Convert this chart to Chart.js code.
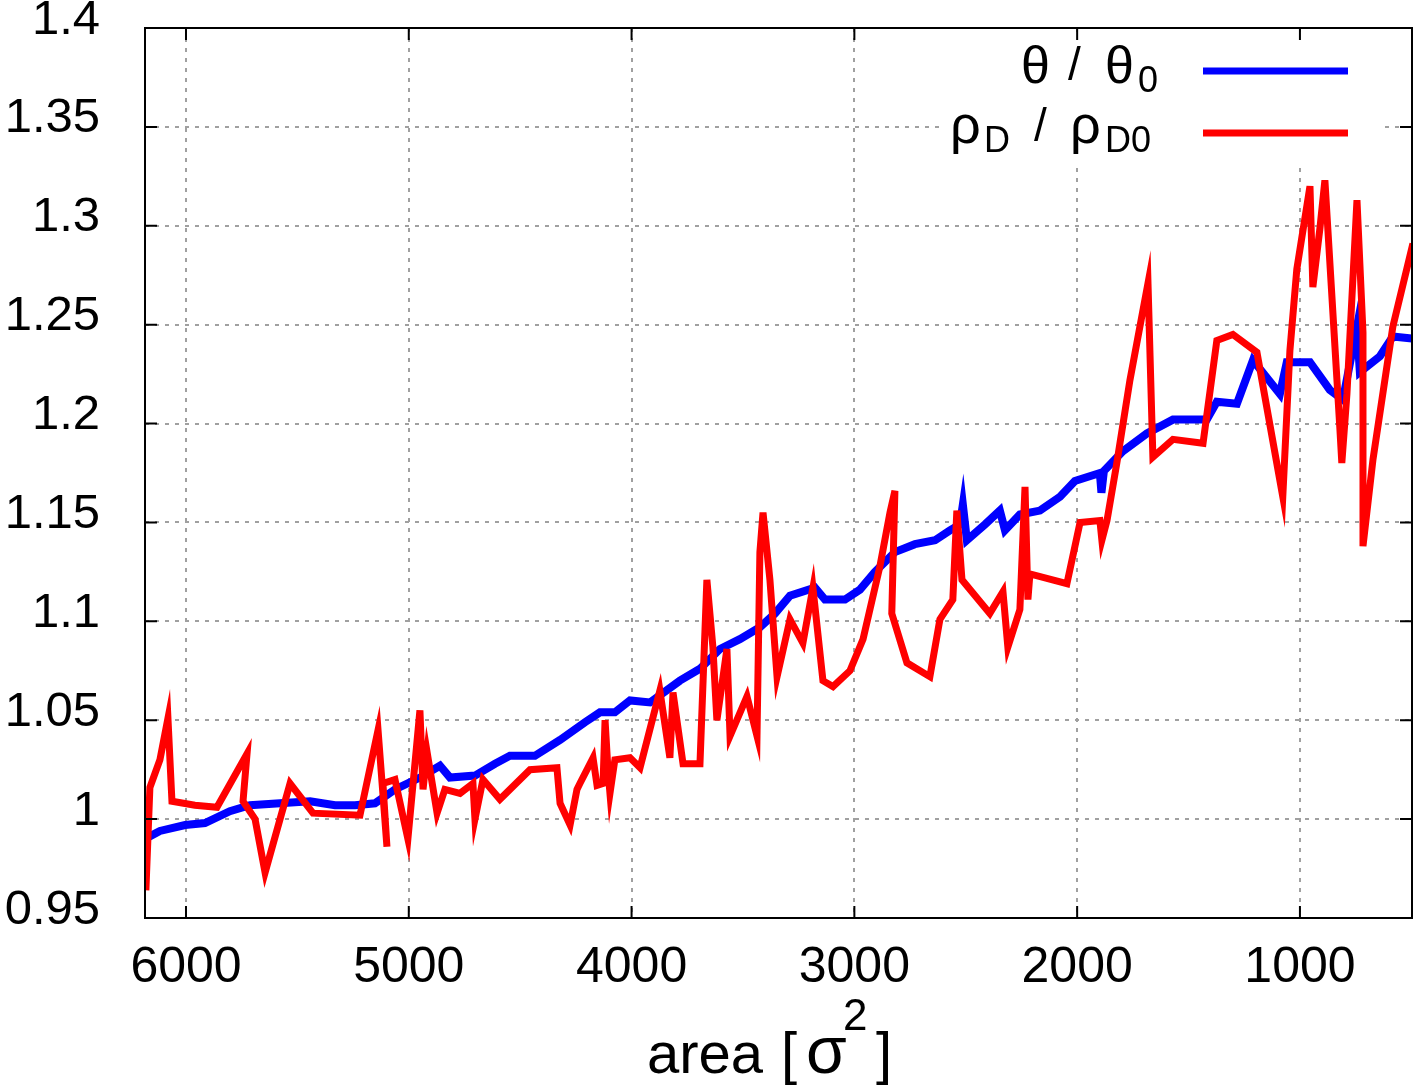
<!DOCTYPE html>
<html>
<head>
<meta charset="utf-8">
<script src="https://cdn.jsdelivr.net/npm/chart.js@4.4.1/dist/chart.umd.min.js"></script>
<style>
    html, body { margin: 0; padding: 0; background: #fff; }
    #wrap { width: 1415px; height: 1091px; }
</style>
</head>
<body>
<div id="wrap"><canvas id="chartArea" width="1415" height="1091"></canvas></div>
<script>
// --- DATOS: θ / θ0 (azul) ---
const thetaArea = [6184, 6117, 6004, 5915, 5803, 5713, 5578, 5443, 5331, 5241, 5152, 5062, 4950, 4860, 4815,
    4703, 4613, 4546, 4434, 4321, 4209, 4142, 4075, 4007, 3917, 3783, 3693, 3603, 3514, 3424, 3356, 3289,
    3177, 3132, 3042, 2975, 2908, 2818, 2728, 2638, 2571, 2526, 2513, 2495, 2414, 2347, 2324, 2257, 2167,
    2077, 2010, 1898, 1891, 1880, 1795, 1687, 1570, 1418, 1373, 1283, 1211, 1090, 1059, 955, 866, 807,
    744, 731, 641, 583, 497];
const thetaValor = [0.990, 0.994, 0.997, 0.998, 1.004, 1.007, 1.008, 1.009, 1.007, 1.007, 1.008, 1.015, 1.021,
    1.027, 1.021, 1.022, 1.028, 1.032, 1.032, 1.040, 1.049, 1.054, 1.054, 1.060, 1.059, 1.070, 1.076, 1.086,
    1.091, 1.097, 1.104, 1.113, 1.117, 1.111, 1.111, 1.116, 1.125, 1.135, 1.139, 1.141, 1.146, 1.149, 1.159,
    1.141, 1.149, 1.156, 1.146, 1.154, 1.156, 1.163, 1.171, 1.175, 1.165, 1.176, 1.186, 1.195, 1.202, 1.202,
    1.211, 1.210, 1.232, 1.215, 1.231, 1.231, 1.217, 1.212, 1.249, 1.226, 1.234, 1.244, 1.243];

// --- DATOS: ρD / ρD0 (rojo) ---
const rhoArea = [6184, 6180, 6162, 6117, 6081, 6063, 5960, 5861, 5726, 5744, 5690, 5645, 5533, 5430, 5219,
    5138, 5098, 5116, 5062, 5004, 4950, 4936, 4918, 4873, 4838, 4770, 4712, 4703, 4667, 4591, 4456, 4335,
    4321, 4276, 4245, 4232, 4173, 4155, 4128, 4119, 4106, 4097, 4075, 4007, 3962, 3873, 3828, 3814, 3769,
    3693, 3662, 3635, 3617, 3572, 3558, 3482, 3437, 3424, 3410, 3379, 3347, 3289, 3231, 3186, 3141, 3096,
    3020, 2961, 2885, 2840, 2818, 2832, 2764, 2661, 2616, 2558, 2540, 2517, 2392, 2333, 2311, 2257, 2234,
    2221, 2212, 2046, 1987, 1898, 1889, 1866, 1822, 1763, 1682, 1660, 1570, 1435, 1373, 1301, 1193, 1077,
    1045, 1014, 955, 942, 910, 888, 821, 812, 789, 744, 717, 717, 672, 583, 493];
const rhoValor = [1.000, 0.964, 1.016, 1.030, 1.051, 1.009, 1.007, 1.006, 1.033, 1.009, 1.000, 0.973, 1.018,
    1.003, 1.002, 1.045, 0.986, 1.018, 1.020, 0.990, 1.055, 1.015, 1.034, 1.003, 1.015, 1.013, 1.018, 1.000,
    1.020, 1.010, 1.025, 1.026, 1.008, 0.997, 1.015, 1.018, 1.031, 1.017, 1.018, 1.050, 1.025, 1.013, 1.030,
    1.031, 1.026, 1.065, 1.031, 1.064, 1.028, 1.028, 1.121, 1.087, 1.050, 1.086, 1.042, 1.062, 1.042, 1.135,
    1.155, 1.121, 1.072, 1.101, 1.089, 1.117, 1.070, 1.067, 1.075, 1.091, 1.128, 1.155, 1.166, 1.104, 1.079,
    1.072, 1.101, 1.111, 1.156, 1.121, 1.104, 1.115, 1.087, 1.106, 1.168, 1.111, 1.124, 1.119, 1.150, 1.151,
    1.141, 1.151, 1.180, 1.222, 1.271, 1.183, 1.192, 1.190, 1.242, 1.245, 1.236, 1.163, 1.237, 1.278, 1.320,
    1.269, 1.299, 1.323, 1.198, 1.180, 1.215, 1.313, 1.246, 1.138, 1.182, 1.249, 1.291];

// --- EJES ---
const xTicks = [6000, 5000, 4000, 3000, 2000, 1000];
const xLimites = [497, 6184];
const yTicks = [0.95, 1, 1.05, 1.1, 1.15, 1.2, 1.25, 1.3, 1.35, 1.4];
const yTickLabels = ['0.95', '1', '1.05', '1.1', '1.15', '1.2', '1.25', '1.3', '1.35', '1.4'];

const FUENTE = '"Liberation Sans", Arial, Helvetica, sans-serif';
const AZUL = '#0000ff';
const ROJO = '#ff0000';

// Trozos de texto sueltos (para sub/superíndices de la leyenda y del título)
function trozo(ctx, t, x, y, size) {
    ctx.font = size + 'px ' + FUENTE;
    ctx.fillText(t, x, y);
}

// Marco, ticks hacia dentro, leyenda y título del eje X (estilo gnuplot)
const estiloGnuplot = {
    id: 'estiloGnuplot',
    beforeDatasetsDraw(chart) {
        const ctx = chart.ctx;
        ctx.save();
        ctx.fillStyle = '#fff';
        ctx.fillRect(945, 32, 440, 132);
        ctx.restore();
    },
    afterDraw(chart) {
        const ctx = chart.ctx;
        const a = chart.chartArea;
        const sx = chart.scales.x, sy = chart.scales.y;
        ctx.save();
        ctx.strokeStyle = '#000';
        ctx.lineWidth = 2;
        ctx.strokeRect(a.left, a.top, a.right - a.left, a.bottom - a.top);
        const largo = 12;
        ctx.beginPath();
        xTicks.forEach(v => {
            const px = sx.getPixelForValue(v);
            ctx.moveTo(px, a.bottom); ctx.lineTo(px, a.bottom - largo);
            ctx.moveTo(px, a.top); ctx.lineTo(px, a.top + largo);
        });
        yTicks.forEach(v => {
            const py = sy.getPixelForValue(v);
            ctx.moveTo(a.left, py); ctx.lineTo(a.left + largo, py);
            ctx.moveTo(a.right, py); ctx.lineTo(a.right - largo, py);
        });
        ctx.stroke();

        // leyenda
        ctx.fillStyle = '#000';
        ctx.textAlign = 'left';
        ctx.textBaseline = 'alphabetic';
        trozo(ctx, 'θ', 1021, 83, 52);
        trozo(ctx, '/', 1068, 80, 46);
        trozo(ctx, 'θ', 1105, 83, 52);
        trozo(ctx, '0', 1138, 92, 36);
        trozo(ctx, 'ρ', 950, 143, 54);
        trozo(ctx, 'D', 984, 152, 36);
        trozo(ctx, '/', 1034, 141, 46);
        trozo(ctx, 'ρ', 1070, 143, 54);
        trozo(ctx, 'D0', 1105, 152, 36);

        ctx.lineWidth = 7;
        ctx.strokeStyle = AZUL;
        ctx.beginPath(); ctx.moveTo(1203, 71); ctx.lineTo(1348, 71); ctx.stroke();
        ctx.strokeStyle = ROJO;
        ctx.beginPath(); ctx.moveTo(1203, 133); ctx.lineTo(1348, 133); ctx.stroke();

        // título eje X: area [σ²]
        trozo(ctx, 'area', 647, 1073, 58);
        trozo(ctx, '[', 781, 1073, 58);
        trozo(ctx, 'σ', 806, 1073, 66);
        trozo(ctx, '2', 843, 1030, 44);
        trozo(ctx, ']', 876, 1073, 58);
        ctx.restore();
    }
};

const puntos = (xs, ys) => xs.map((x, i) => ({x: x, y: ys[i]}));

new Chart(document.getElementById('chartArea').getContext('2d'), {
    type: 'scatter',
    data: {
        datasets: [{
            label: 'ρD / ρD0',
            data: puntos(rhoArea, rhoValor),
            borderColor: ROJO,
            borderWidth: 7,
            showLine: true,
            pointRadius: 0,
            tension: 0,
            clip: 0,
            order: 0
        }, {
            label: 'θ / θ0',
            data: puntos(thetaArea, thetaValor),
            borderColor: AZUL,
            borderWidth: 8,
            showLine: true,
            pointRadius: 0,
            tension: 0,
            clip: 0,
            order: 1
        }]
    },
    options: {
        responsive: false,
        animation: false,
        layout: { padding: { top: 28, right: 3, left: 0, bottom: 0 } },
        plugins: {
            legend: { display: false },
            tooltip: { enabled: false }
        },
        scales: {
            x: {
                type: 'linear',
                reverse: true,
                min: xLimites[0],
                max: xLimites[1],
                afterBuildTicks: s => { s.ticks = xTicks.map(v => ({value: v})); },
                afterFit: s => { s.height = 173; s.paddingLeft = 0; s.paddingRight = 0; },
                grid: { color: '#a0a0a0', lineWidth: 2, drawTicks: false, tickLength: 0 },
                border: { display: false, dash: [4, 6] },
                ticks: {
                    autoSkip: false,
                    maxRotation: 0,
                    padding: 20,
                    color: '#000',
                    font: { family: FUENTE, size: 50 },
                    callback: v => String(v)
                }
            },
            y: {
                type: 'linear',
                min: yTicks[0],
                max: yTicks[yTicks.length - 1],
                afterBuildTicks: s => { s.ticks = yTicks.map(v => ({value: v})); },
                afterFit: s => { s.width = 145; s.paddingTop = 0; s.paddingBottom = 0; },
                grid: { color: '#a0a0a0', lineWidth: 2, drawTicks: false, tickLength: 0 },
                border: { display: false, dash: [4, 6] },
                ticks: {
                    autoSkip: false,
                    padding: 45,
                    labelOffset: -8,
                    color: '#000',
                    font: { family: FUENTE, size: 49 },
                    callback: (v, i) => yTickLabels[i]
                }
            }
        }
    },
    plugins: [estiloGnuplot]
});
</script>
</body>
</html>
